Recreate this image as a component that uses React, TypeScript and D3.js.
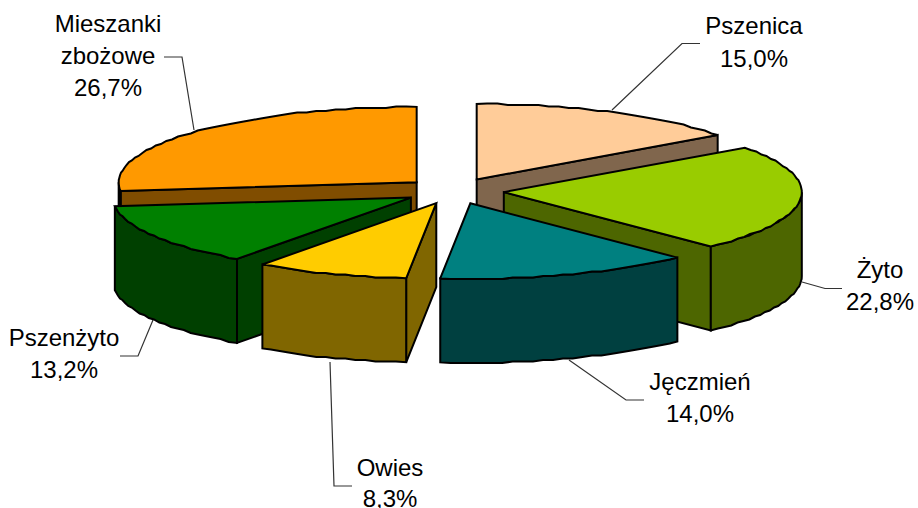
import React from "react";
import * as d3 from "d3";

const categories = ["Pszenica", "Żyto", "Jęczmień", "Owies", "Pszenżyto", "Mieszanki zbożowe"];
const shares = [15.0, 22.8, 14.0, 8.3, 13.2, 26.7];
const shareLabels = ["15,0%", "22,8%", "14,0%", "8,3%", "13,2%", "26,7%"];
const topColors = ["#FFCC99", "#99CC00", "#008080", "#FFCC00", "#008000", "#FF9900"];
const paintOrder = [0, 5, 1, 4, 2, 3];

const W = 918, H = 508;
const CX = 454, CY = 191;
const RX = 298, RY = 75.5;
const EX = 50, EY = 13;
const DEPTH = 84;
const GRID = 1.5;

// the 3D projection of the source squeezes the front of the pie slightly
const warpShare = [0, 37.8, 51.8, 60.1, 100];
const warpDeg = [0, 136, 185.8, 215.7, 360];

const labelLayout = [
  { x: 754, ys: [34, 67], lines: ["Pszenica"], leader: [[700, 43.5], [682, 43.5], [612, 110]] },
  { x: 880, ys: [278, 310], lines: ["Żyto"], leader: [[842, 288.5], [825, 288.5], [802, 282]] },
  { x: 700, ys: [390, 422], lines: ["Jęczmień"], leader: [[644, 400], [626, 400], [569, 360]] },
  { x: 390, ys: [476, 507], lines: ["Owies"], leader: [[352, 486], [334, 486], [330, 362]] },
  { x: 64, ys: [346, 378], lines: ["Pszenżyto"], leader: [[120, 356], [138, 356], [153, 320]] },
  { x: 108, ys: [32, 64, 96], lines: ["Mieszanki", "zbożowe"], leader: [[164, 57], [182, 57], [194, 130]] },
];

const cum = d3.cumsum(shares);
const angle = d3.scaleLinear().domain(warpShare).range(warpDeg.map((d) => (d * Math.PI) / 180));
const unitX = d3.scaleLinear().domain([-1, 1]).range([-RX, RX]);
const unitY = d3.scaleLinear().domain([-1, 1]).range([RY, -RY]);
const line = d3.line<[number, number]>().x((d) => d[0]).y((d) => d[1]).curve(d3.curveLinearClosed);

const shade = (c: string) => {
  const r = d3.rgb(c);
  return d3.rgb(r.r * 0.5, r.g * 0.5, r.b * 0.5).formatHex();
};

type Pt = [number, number];

function arcPoints(a0: number, a1: number, ox: number, oy: number): Pt[] {
  const n = Math.max(2, Math.ceil((a1 - a0) / (Math.PI / 90)));
  return d3.range(n + 1).map((i) => {
    const a = a0 + ((a1 - a0) * i) / n;
    const x = ox + unitX(Math.sin(a));
    const y = oy + unitY(Math.cos(a));
    if (i === 0 || i === n) return [x, y] as Pt;
    return [x, Math.round(y / GRID) * GRID] as Pt;
  });
}

function Slice({ i }: { i: number }) {
  const a0 = angle(i === 0 ? 0 : cum[i - 1]);
  const a1 = angle(cum[i]);
  const mid = (a0 + a1) / 2;
  const ox = CX + EX * Math.sin(mid);
  const oy = CY - EY * Math.cos(mid);
  const top = topColors[i];
  const side = shade(top);
  const edge = { stroke: "#000", strokeWidth: 2, strokeLinejoin: "miter" as const, strokeMiterlimit: 3 };
  const apex: Pt = [ox, oy];
  const drop = (p: Pt): Pt => [p[0], p[1] + DEPTH];
  const rim = (a: number): Pt => [ox + unitX(Math.sin(a)), oy + unitY(Math.cos(a))];

  const cuts: Pt[][] = [];
  if (Math.sin(a0) < 0) cuts.push([apex, rim(a0), drop(rim(a0)), drop(apex)]);
  if (Math.sin(a1) > 0) cuts.push([apex, rim(a1), drop(rim(a1)), drop(apex)]);

  const w0 = Math.max(a0, Math.PI / 2);
  const w1 = Math.min(a1, (3 * Math.PI) / 2);
  const wall = w1 > w0 ? arcPoints(w0, w1, ox, oy) : null;
  const wallPoly = wall ? [...wall, ...wall.slice().reverse().map(drop)] : null;
  const face: Pt[] = [apex, ...arcPoints(a0, a1, ox, oy)];

  return (
    <g>
      {cuts.map((c, k) => (
        <path key={k} d={line(c) ?? ""} fill={side} {...edge} />
      ))}
      {wallPoly && <path d={line(wallPoly) ?? ""} fill={side} {...edge} />}
      <path d={line(face) ?? ""} fill={top} {...edge} />
    </g>
  );
}

export default function App() {
  return (
    <svg
      width={W}
      height={H}
      viewBox={`0 0 ${W} ${H}`}
      style={{ position: "absolute", left: 0, top: 0, display: "block", background: "#fff" }}
    >
      {labelLayout.map((l, i) => (
        <polyline
          key={i}
          points={l.leader.map((p) => p.join(",")).join(" ")}
          fill="none"
          stroke="#333"
          strokeWidth={1.2}
        />
      ))}
      {paintOrder.map((i) => (
        <Slice key={i} i={i} />
      ))}
      <g fontFamily="'Liberation Sans', Arial, sans-serif" fontSize={24} fill="#000" textAnchor="middle">
        {labelLayout.map((l, i) => (
          <g key={categories[i]}>
            {[...l.lines, shareLabels[i]].map((t, k) => (
              <text key={k} x={l.x} y={l.ys[k]}>
                {t}
              </text>
            ))}
          </g>
        ))}
      </g>
    </svg>
  );
}
